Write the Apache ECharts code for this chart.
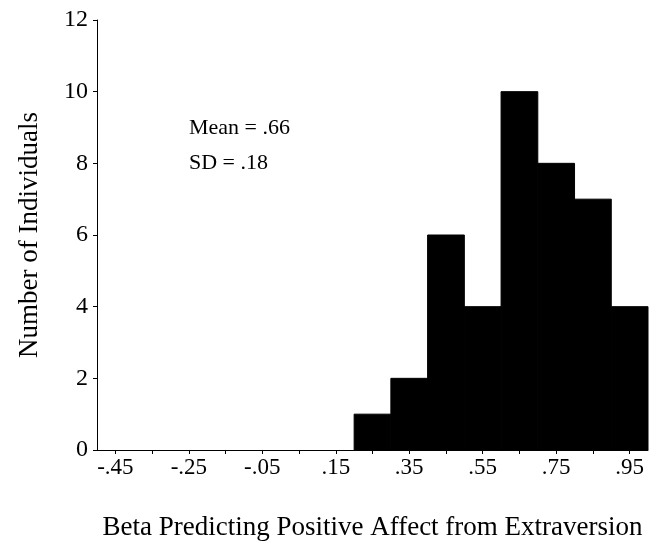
<!DOCTYPE html>
<html>
<head>
<meta charset="utf-8">
<script src="https://cdn.jsdelivr.net/npm/echarts@6/dist/echarts.min.js"></script>
<style>html,body{margin:0;padding:0;background:#fff}#c{width:649px;height:546px}</style>
</head>
<body>
<div id="c"></div>
<script>
// Histogram data (bin centers and counts)
const binCenters = [0.25, 0.35, 0.45, 0.55, 0.65, 0.75, 0.85, 0.95];
const counts = [1, 2, 6, 4, 10, 8, 7, 4];
const binWidth = 0.1;
const xTickLabels = ['-.45', '-.25', '-.05', '.15', '.35', '.55', '.75', '.95'];
const xTickMarks = ['-.45','-.35','-.25','-.15','-.05','.05','.15','.25','.35','.45','.55','.65','.75','.85','.95'];
const yTicks = [0, 2, 4, 6, 8, 10, 12];
const xTitle = 'Beta Predicting Positive Affect from Extraversion';
const yTitle = 'Number of Individuals';
const annotations = ['Mean = .66', 'SD = .18'];

const labelValues = xTickLabels.map(s => parseFloat(s));
const tickValues = xTickMarks.map(s => parseFloat(s));
const fmt = v => {
  const r = Math.round(v * 100) / 100;
  let s = r.toFixed(2);
  return s.replace(/^(-?)0\./, '$1.');
};

const chart = echarts.init(document.getElementById('c'));
const font = '"Liberation Serif", "DejaVu Serif", serif';
chart.setOption({
  animation: false,
  backgroundColor: '#fff',
  grid: { left: 97, right: 1, top: 20, bottom: 94 },
  xAxis: {
    type: 'value', min: -0.5, max: 1.0,
    name: xTitle, nameLocation: 'middle', nameGap: 64,
    nameTextStyle: { fontFamily: font, fontSize: 27, color: '#000' },
    axisLine: { show: true, onZero: false, lineStyle: { color: '#000', width: 1 } },
    axisTick: { show: true, length: 4, customValues: tickValues, lineStyle: { color: '#000' } },
    axisLabel: { customValues: labelValues, formatter: fmt, fontFamily: font, fontSize: 23, color: '#000', margin: 6 },
    splitLine: { show: false }
  },
  yAxis: {
    type: 'value', min: yTicks[0], max: yTicks[yTicks.length - 1], interval: 2,
    name: yTitle, nameLocation: 'middle', nameGap: 54, nameRotate: 90,
    nameTextStyle: { fontFamily: font, fontSize: 27, color: '#000' },
    axisLine: { show: true, onZero: false, lineStyle: { color: '#000', width: 1 } },
    axisTick: { show: true, length: 4, lineStyle: { color: '#000' } },
    axisLabel: { fontFamily: font, fontSize: 24, color: '#000', margin: 9 },
    splitLine: { show: false }
  },
  graphic: [
    { type: 'text', left: 189, top: 117, style: { text: annotations[0], fontFamily: font, fontSize: 22, fill: '#000' } },
    { type: 'text', left: 189, top: 152, style: { text: annotations[1], fontFamily: font, fontSize: 22, fill: '#000' } }
  ],
  series: [{
    type: 'custom',
    data: binCenters.map((c, i) => [c, counts[i]]),
    renderItem: function (params, api) {
      const c = api.value(0), n = api.value(1);
      const p0 = api.coord([c - binWidth / 2, n]);
      const p1 = api.coord([c + binWidth / 2, 0]);
      return {
        type: 'rect',
        shape: { x: p0[0], y: p0[1], width: p1[0] - p0[0], height: p1[1] - p0[1] },
        style: { fill: '#000', stroke: '#000', lineWidth: 1 }
      };
    }
  }]
});
</script>
</body>
</html>
